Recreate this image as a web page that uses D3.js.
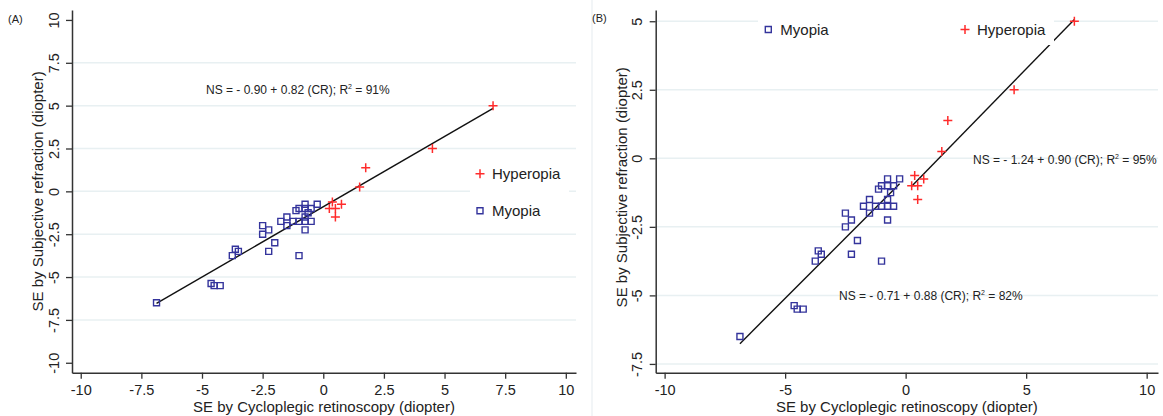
<!DOCTYPE html>
<html>
<head>
<meta charset="utf-8">
<script src="https://cdn.jsdelivr.net/npm/d3@7"></script>
<style>
  body { margin: 0; background: #fff; }
  svg { display: block; font-family: "Liberation Sans", Arial, sans-serif; }
</style>
</head>
<body>
<svg id="chart" width="1163" height="416"></svg>
<script>
// data (diopters)
const myopiaCR = [-6.875, -4.625, -4.5, -4.25, -3.75, -3.625, -3.5, -2.5, -2.5, -2.25, -2.25, -2, -1.75, -1.5, -1.5,
  -1.25, -1.125, -1, -1, -1, -0.75, -0.75, -0.75, -0.75, -0.75, -0.625, -0.5, -0.5, -0.25];
const myopiaNS = [-6.5, -5.375, -5.5, -5.5, -3.75, -3.375, -3.5, -2, -2.5, -2.25, -3.5, -3, -1.75, -1.5, -2,
  -1.75, -1.125, -1, -1.75, -3.75, -0.75, -1, -1.5, -1.75, -2.25, -1.25, -1, -1.75, -0.75];
const hyperCR = [0.25, 0.375, 0.5, 0.5, 0.75, 1.5, 1.75, 4.5, 7];
const hyperNS = [-1, -0.625, -1, -1.5, -0.75, 0.25, 1.375, 2.5, 5];

const ticksA_x = [-10, -7.5, -5, -2.5, 0, 2.5, 5, 7.5, 10];
const ticksA_y = [-10, -7.5, -5, -2.5, 0, 2.5, 5, 7.5, 10];
const gridA_y = [-7.5, -5, -2.5, 0, 2.5, 5, 7.5];
const ticksB_x = [-10, -5, 0, 5, 10];
const ticksB_y = [-7.5, -5, -2.5, 0, 2.5, 5];

// fitted lines: NS = a + b * CR
const fitAll = { a: -0.90, b: 0.82, r2: 91 };
const fitMyopia = { a: -0.71, b: 0.88, r2: 82 };
const fitHyper = { a: -1.24, b: 0.90, r2: 95 };

const myopia = myopiaCR.map((d, i) => ({ cr: d, ns: myopiaNS[i] }));
const hyper = hyperCR.map((d, i) => ({ cr: d, ns: hyperNS[i] }));

const blue = "#34349c";
const red = "#ff2b2b";
const gridCol = "#e8f0f2";
const xTitle = "SE by Cycloplegic retinoscopy (diopter)";
const yTitle = "SE by Subjective refraction (diopter)";
const fmt = d => String(d);   // plain hyphen, as in the original

const svg = d3.select("#chart");

// faint panel divider
svg.append("line").attr("x1", 592).attr("x2", 592).attr("y1", 0).attr("y2", 416)
  .attr("stroke", "#eef2f5").attr("stroke-width", 1.5);

function equation(g, fit, x, y) {
  const t = g.append("text").attr("x", x).attr("y", y)
    .attr("font-size", 12).attr("fill", "#222");
  t.append("tspan").text("NS = - " + Math.abs(fit.a).toFixed(2) + " + " + fit.b.toFixed(2) + " (CR); R");
  t.append("tspan").attr("font-size", 7).attr("dy", -5).text("2");
  t.append("tspan").attr("dy", 5).text(" = " + fit.r2 + "%");
}

function drawPanel(p) {
  const g = svg.append("g");
  const x = d3.scaleLinear().domain(p.xDomain).range(p.xRange);
  const y = d3.scaleLinear().domain(p.yDomain).range(p.yRange);

  // grid
  g.append("g").selectAll("line").data(p.grid).join("line")
    .attr("x1", p.xRange[0]).attr("x2", p.xRange[1])
    .attr("y1", d => y(d)).attr("y2", d => y(d))
    .attr("stroke", gridCol).attr("stroke-width", 1.5);

  // regression lines
  p.fits.forEach(f => {
    const ext = d3.extent(f.pts, d => d.cr);
    g.append("line")
      .attr("x1", x(ext[0])).attr("y1", y(f.fit.a + f.fit.b * ext[0]))
      .attr("x2", x(ext[1])).attr("y2", y(f.fit.a + f.fit.b * ext[1]))
      .attr("stroke", "#111").attr("stroke-width", 1.4);
  });

  // points
  g.append("g").selectAll("path").data(myopia).join("path")
    .attr("d", "M-3,-3H3V3H-3Z")
    .attr("transform", d => `translate(${x(d.cr)},${y(d.ns)})`)
    .attr("fill", "none").attr("stroke", blue).attr("stroke-width", 1.4);
  g.append("g").selectAll("path").data(hyper).join("path")
    .attr("d", "M-4.5,0H4.5M0,-4.5V4.5")
    .attr("transform", d => `translate(${x(d.cr)},${y(d.ns)})`)
    .attr("fill", "none").attr("stroke", red).attr("stroke-width", 1.5);

  // legend
  const lg = g.append("g");
  lg.append("rect").attr("x", p.legBox[0]).attr("y", p.legBox[1])
    .attr("width", p.legBox[2]).attr("height", p.legBox[3]).attr("fill", "#fff");
  p.legend.forEach(l => {
    if (l.kind === "hyper") {
      lg.append("path").attr("d", "M-4.5,0H4.5M0,-4.5V4.5")
        .attr("transform", `translate(${l.x},${l.y})`)
        .attr("stroke", red).attr("stroke-width", 1.5);
    } else {
      lg.append("path").attr("d", "M-3,-3H3V3H-3Z")
        .attr("transform", `translate(${l.x},${l.y})`)
        .attr("fill", "none").attr("stroke", blue).attr("stroke-width", 1.4);
    }
    lg.append("text").attr("x", l.x + 12).attr("y", l.y + 5.5)
      .attr("font-size", 15).attr("fill", "#222").text(l.label);
  });

  // axes
  const ax = g.append("g").attr("transform", `translate(0,${p.yRange[0]})`)
    .call(d3.axisBottom(x).tickValues(p.xTicks).tickSize(6).tickSizeOuter(0).tickFormat(fmt));
  ax.selectAll("text").attr("y", 22.5).attr("dy", null).attr("font-size", 14.5).attr("fill", "#222");

  const ay = g.append("g").attr("transform", `translate(${p.xRange[0]},0)`)
    .call(d3.axisLeft(y).tickValues(p.yTicks).tickSize(6).tickSizeOuter(0).tickFormat(fmt));
  ay.selectAll("text").attr("x", null).attr("dy", null)
    .attr("transform", "translate(-13.5,0) rotate(-90)")
    .attr("text-anchor", "middle").attr("font-size", 14.5).attr("fill", "#222");

  [ax, ay].forEach(a => {
    a.select(".domain").attr("stroke", "#333").attr("stroke-width", 1.5);
    a.selectAll(".tick line").attr("stroke", "#333").attr("stroke-width", 1.3);
  });

  // titles
  g.append("text").attr("x", (p.xRange[0] + p.xRange[1]) / 2 + p.xTitleShift).attr("y", 411.5)
    .attr("text-anchor", "middle").attr("font-size", 15).attr("fill", "#222").text(xTitle);
  g.append("text").attr("transform", `translate(${p.yTitleX},${y(0) + p.yTitleShift}) rotate(-90)`)
    .attr("text-anchor", "middle").attr("font-size", 15).attr("fill", "#222").text(yTitle);
  g.append("text").attr("x", p.tag[0]).attr("y", p.tag[1])
    .attr("font-size", 11).attr("fill", "#222").text(p.tagText);

  p.eqs.forEach(e => equation(g, e.fit, e.x, e.y));
}

drawPanel({
  xDomain: [-10.36, 10.42], xRange: [72, 576],
  yDomain: [-10.58, 10.58], yRange: [372.7, 10],
  xTicks: ticksA_x, yTicks: ticksA_y, grid: gridA_y,
  fits: [{ fit: fitAll, pts: myopia.concat(hyper) }],
  legBox: [470, 158, 99, 67],
  legend: [{ kind: "hyper", label: "Hyperopia", x: 480, y: 173.7 },
           { kind: "myopia", label: "Myopia", x: 480, y: 210.7 }],
  eqs: [{ fit: fitAll, x: 206, y: 93.5 }],
  xTitleShift: 0, yTitleX: 43, yTitleShift: 0,
  tag: [8, 23], tagText: "(A)"
});

drawPanel({
  xDomain: [-10.37, 10.47], xRange: [655.7, 1158],
  yDomain: [-7.82, 5.41], yRange: [372.7, 10],
  xTicks: ticksB_x, yTicks: ticksB_y, grid: ticksB_y,
  fits: [{ fit: fitMyopia, pts: myopia }, { fit: fitHyper, pts: hyper }],
  legBox: [758, 12, 296, 33],
  legend: [{ kind: "myopia", label: "Myopia", x: 768.3, y: 29.5 },
           { kind: "hyper", label: "Hyperopia", x: 965, y: 29.5 }],
  eqs: [{ fit: fitHyper, x: 973, y: 163.5 }, { fit: fitMyopia, x: 839, y: 299.5 }],
  xTitleShift: 0, yTitleX: 627, yTitleShift: 29,
  tag: [592, 22], tagText: "(B)"
});
</script>
</body>
</html>
